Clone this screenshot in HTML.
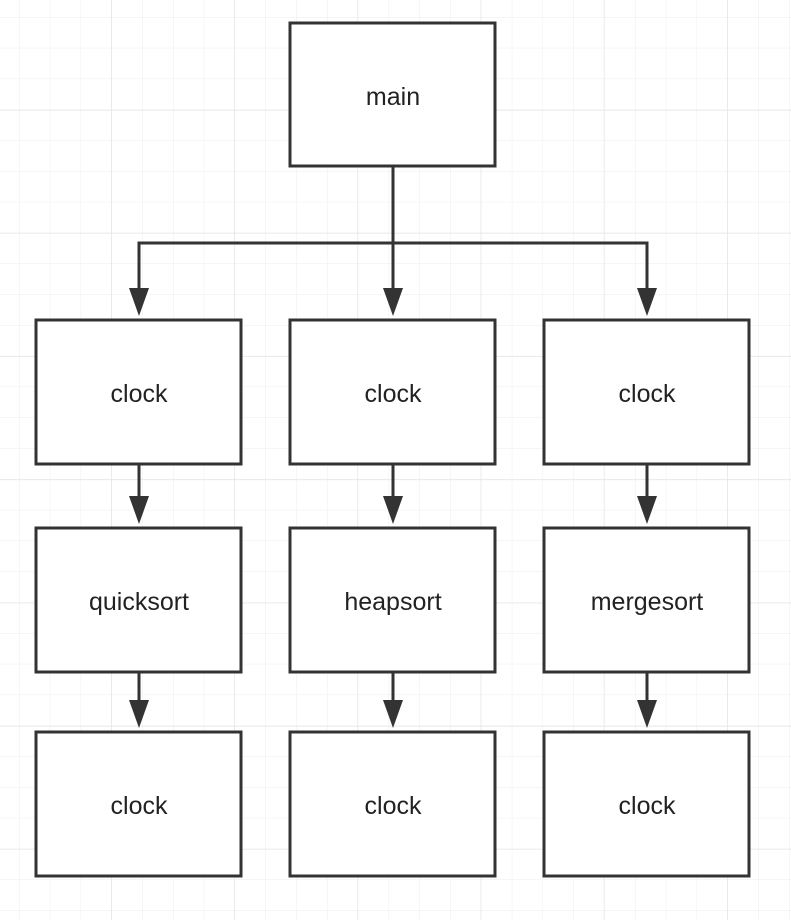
<!DOCTYPE html>
<html><head><style>
html,body{margin:0;padding:0;background:#fff}
</style></head><body>
<svg width="791" height="920" xmlns="http://www.w3.org/2000/svg" style="display:block">
<defs>
<pattern id="g" x="19" y="17" width="30.8" height="30.8" patternUnits="userSpaceOnUse">
<path d="M0 0H30.8M0 0V30.8" stroke="#eeeeee" stroke-width="1" fill="none"/>
</pattern>
<pattern id="G" x="111" y="110" width="123.2" height="123.2" patternUnits="userSpaceOnUse">
<path d="M0 0H123.2M0 0V123.2" stroke="#e2e2e2" stroke-width="1" fill="none"/>
</pattern>
</defs>
<rect width="791" height="920" fill="url(#g)"/>
<rect width="791" height="920" fill="url(#G)"/>
<g stroke="#333" stroke-width="3" fill="#fff">
<rect x="290" y="23" width="205" height="143"/>
<rect x="36" y="320" width="205" height="144"/>
<rect x="290" y="320" width="205" height="144"/>
<rect x="544" y="320" width="205" height="144"/>
<rect x="36" y="528" width="205" height="144"/>
<rect x="290" y="528" width="205" height="144"/>
<rect x="544" y="528" width="205" height="144"/>
<rect x="36" y="732" width="205" height="144"/>
<rect x="290" y="732" width="205" height="144"/>
<rect x="544" y="732" width="205" height="144"/>
</g>
<g stroke="#333" stroke-width="3" fill="none">
<path d="M393 166V292M139 292V243H647V292"/>
<path d="M139 464V500M393 464V500M647 464V500M139 672V704M393 672V704M647 672V704"/>
</g>
<g fill="#333">
<path d="M129 288H149L139 316Z"/><path d="M383 288H403L393 316Z"/><path d="M637 288H657L647 316Z"/>
<path d="M129 496H149L139 524Z"/><path d="M383 496H403L393 524Z"/><path d="M637 496H657L647 524Z"/>
<path d="M129 700H149L139 728Z"/><path d="M383 700H403L393 728Z"/><path d="M637 700H657L647 728Z"/>
</g>
<g font-family="Liberation Sans, sans-serif" font-size="25" fill="#222" text-anchor="middle">
<text x="393" y="105">main</text>
<text x="139" y="402">clock</text><text x="393" y="402">clock</text><text x="647" y="402">clock</text>
<text x="139" y="610">quicksort</text><text x="393" y="610">heapsort</text><text x="647" y="610">mergesort</text>
<text x="139" y="814">clock</text><text x="393" y="814">clock</text><text x="647" y="814">clock</text>
</g>
</svg>
</body></html>
